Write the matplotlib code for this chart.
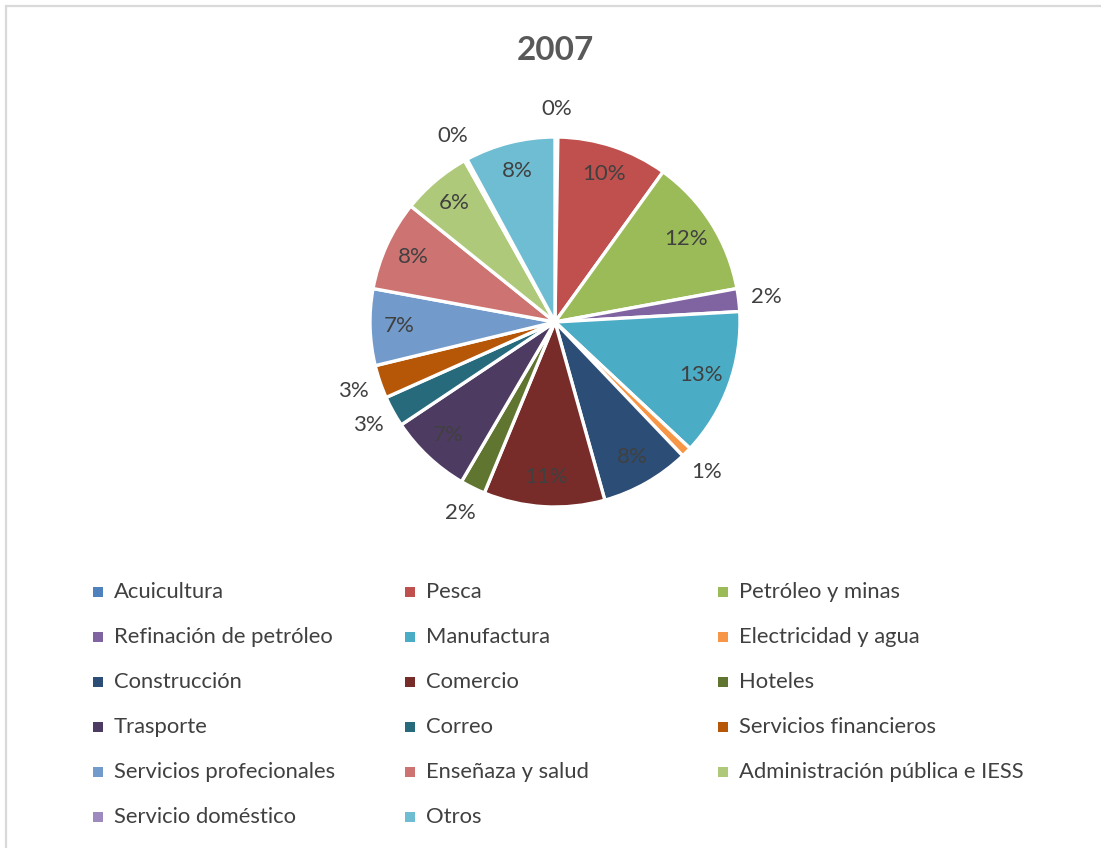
import numpy as np
import matplotlib.pyplot as plt
from matplotlib.patches import Rectangle

plt.rcParams["font.family"] = ["Lato", "DejaVu Sans"]

# datos (participación en %)
sectores = [
    "Acuicultura", "Pesca", "Petróleo y minas",
    "Refinación de petróleo", "Manufactura", "Electricidad y agua",
    "Construcción", "Comercio", "Hoteles",
    "Trasporte", "Correo", "Servicios financieros",
    "Servicios profecionales", "Enseñaza y salud", "Administración pública e IESS",
    "Servicio doméstico", "Otros",
]
valores = [0.25, 9.7, 12.2, 2.0, 12.9, 0.9, 7.8, 10.6, 2.2,
           7.2, 2.7, 2.9, 6.7, 7.9, 6.1, 0.25, 7.9]
colores = [
    "#4F81BD", "#C0504D", "#9BBB59", "#8064A2", "#4BACC6", "#F79646",
    "#2C4D75", "#772C2A", "#5F7530", "#4D3B62", "#276A7C", "#B65708",
    "#729ACA", "#CD7371", "#AFC97A", "#9F8AC0", "#6FBDD2",
]

W, H = 1101, 848
fig = plt.figure(figsize=(W / 100, H / 100), dpi=100)

# borde del área del gráfico (sólo arriba e izquierda visibles)
fig.add_artist(Rectangle((6 / W, -0.05), 1.1, 1.05 - 6 / H,
                         transform=fig.transFigure, fill=False,
                         ec="#D9D9D9", lw=1.6))

cx, cy, r = 555, 322, 185
ax = fig.add_axes([(cx - r) / W, (H - cy - r) / H, 2 * r / W, 2 * r / H])

wedges, _ = ax.pie(valores, colors=colores, startangle=90, counterclock=False,
                   radius=1.0, wedgeprops=dict(edgecolor="white", linewidth=2.4))
ax.set_xlim(-1, 1)
ax.set_ylim(-1, 1)
ax.axis("off")

# etiquetas de porcentaje: dentro si la porción es grande, fuera si es pequeña
total = sum(valores)
for w, v in zip(wedges, valores):
    pct = 100 * v / total
    ang = np.deg2rad((w.theta1 + w.theta2) / 2)
    dist = 0.84 if pct >= 4 else 1.15
    ax.text(dist * np.cos(ang), dist * np.sin(ang), f"{pct:.0f}%",
            ha="center", va="center", fontsize=16, color="#404040")

fig.text(cx / W, 1 - 50 / H, "2007", ha="center", va="center",
         fontsize=24, fontweight="bold", color="#595959")

# leyenda en 3 columnas, llenado por filas
col_x = [98, 410, 723]
for i, (nombre, c) in enumerate(zip(sectores, colores)):
    fila, col = divmod(i, 3)
    y = 592 + 45 * fila
    x = col_x[col]
    fig.add_artist(Rectangle(((x - 5) / W, 1 - (y + 5) / H), 10 / W, 10 / H,
                             transform=fig.transFigure, fc=c, ec="none"))
    fig.text((x + 16) / W, 1 - y / H, nombre, ha="left", va="center",
             fontsize=15.8, color="#404040")

fig.savefig("out.png", dpi=100)
